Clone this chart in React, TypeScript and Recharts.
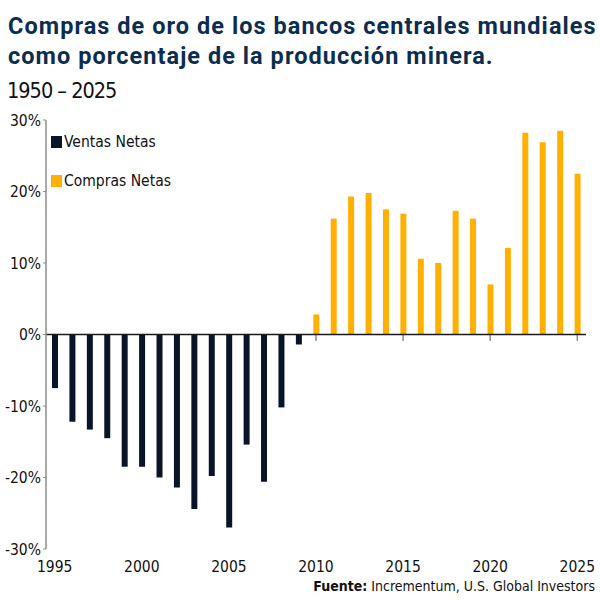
import { Bar, BarChart, Cell, ReferenceLine, XAxis, YAxis } from "recharts";

const years = [
  1995, 1996, 1997, 1998, 1999, 2000, 2001, 2002, 2003, 2004, 2005, 2006, 2007, 2008, 2009, 2010,
  2011, 2012, 2013, 2014, 2015, 2016, 2017, 2018, 2019, 2020, 2021, 2022, 2023, 2024, 2025,
];
const shares = [
  -7.5, -12.2, -13.3, -14.5, -18.5, -18.5, -20.0, -21.4, -24.4, -19.8, -27.0, -15.4, -20.6, -10.2,
  -1.4, 2.8, 16.2, 19.3, 19.8, 17.5, 16.9, 10.6, 10.0, 17.3, 16.2, 7.0, 12.1, 28.2, 26.9, 28.5,
  22.5,
];
const yTicks = [-30, -20, -10, 0, 10, 20, 30];
const yearTicks = [1995, 2000, 2005, 2010, 2015, 2020, 2025];

const SELL = "#0a1429";
const BUY = "#ffb000";
const NARROW = '"Liberation Sans Narrow", "DejaVu Sans Condensed", sans-serif';

const data = years.map((y, i) => ({ year: y, value: shares[i] }));

const legendItems = [
  { label: "Ventas Netas", color: SELL },
  { label: "Compras Netas", color: BUY },
];

function LegendBox() {
  return (
    <div style={{ position: "absolute", left: 51, top: 135 }}>
      {legendItems.map((it, i) => (
        <div
          key={it.label}
          style={{
            display: "flex",
            alignItems: "center",
            height: 14,
            marginBottom: i === 0 ? 25 : 0,
            fontFamily: NARROW,
            fontSize: 15.5,
            color: "#111",
            whiteSpace: "nowrap",
          }}
        >
          <span style={{ width: 11, height: 12, background: it.color, marginRight: 2 }} />
          {it.label}
        </div>
      ))}
    </div>
  );
}

export default function App() {
  return (
    <div style={{ position: "absolute", left: 0, top: 0, width: 600, height: 600, background: "#fff" }}>
      <div
        style={{
          position: "absolute",
          left: 8,
          top: 11,
          fontFamily: "Roboto, sans-serif",
          fontWeight: 700,
          fontSize: 23.5,
          letterSpacing: 1.05,
          lineHeight: "30px",
          color: "#0b2d4f",
          whiteSpace: "nowrap",
        }}
      >
        Compras de oro de los bancos centrales mundiales
        <br />
        como porcentaje de la producción minera.
      </div>
      <div
        style={{
          position: "absolute",
          left: 7,
          top: 78,
          fontFamily: NARROW,
          fontSize: 21.5,
          letterSpacing: -1,
          color: "#111",
          whiteSpace: "nowrap",
        }}
      >
        1950 – 2025
      </div>
      <div style={{ position: "absolute", left: 0, top: 0 }}>
        <BarChart
          width={600}
          height={600}
          data={data}
          margin={{ top: 120, right: 14, bottom: 21, left: 0 }}
          barCategoryGap={0}
        >
          <XAxis
            dataKey="year"
            ticks={yearTicks}
            interval={0}
            axisLine={false}
            tickLine={false}
            tickMargin={6}
            height={30}
            tick={{ fill: "#111", fontSize: 15.5, fontFamily: NARROW }}
          />
          <YAxis
            domain={[-30, 30]}
            ticks={yTicks}
            interval={0}
            width={46}
            tickSize={3}
            tickMargin={2}
            axisLine={{ stroke: "#8c8c8c", strokeWidth: 1.5 }}
            tickLine={{ stroke: "#8c8c8c" }}
            tickFormatter={(v) => `${v}%`}
            tick={{ fill: "#111", fontSize: 15.5, fontFamily: NARROW }}
          />
          {yearTicks.slice(3).map((y) => (
            <ReferenceLine
              key={y}
              segment={[
                { x: y, y: 0 },
                { x: y, y: -0.9 },
              ]}
              stroke="#8c8c8c"
              strokeWidth={1.5}
            />
          ))}
          <Bar dataKey="value" barSize={6} isAnimationActive={false}>
            {data.map((d) => (
              <Cell key={d.year} fill={d.value < 0 ? SELL : BUY} />
            ))}
          </Bar>
          <ReferenceLine y={0} stroke="#1a1a1a" strokeWidth={1.5} />
        </BarChart>
      </div>
      <LegendBox />
      <div
        style={{
          position: "absolute",
          right: 5,
          top: 578,
          fontFamily: NARROW,
          fontSize: 14,
          color: "#111",
          whiteSpace: "nowrap",
        }}
      >
        <b>Fuente:</b> Incrementum, U.S. Global Investors
      </div>
    </div>
  );
}
